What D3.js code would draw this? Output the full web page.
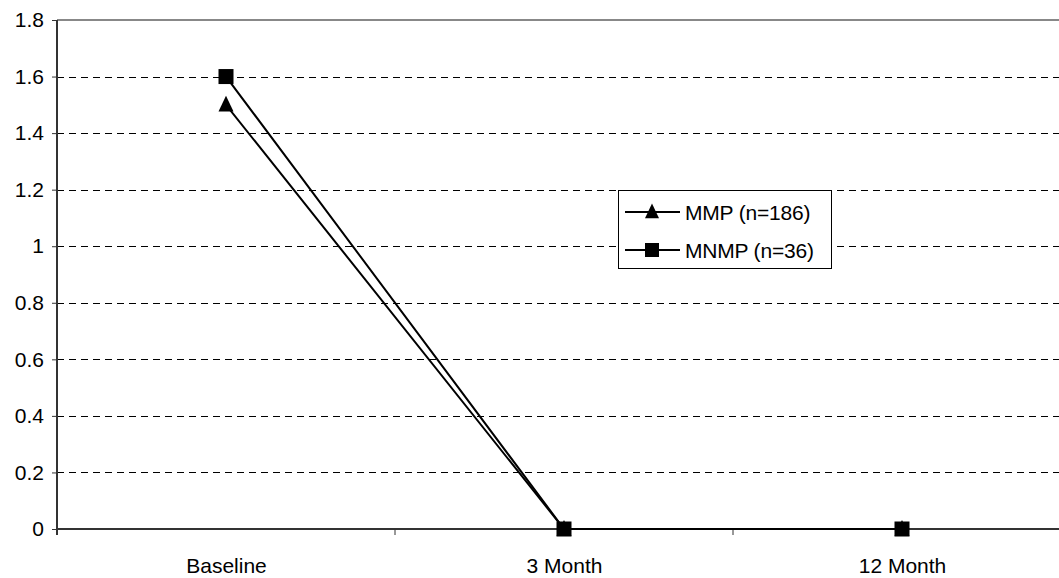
<!DOCTYPE html>
<html>
<head>
<meta charset="utf-8">
<script src="https://cdn.jsdelivr.net/npm/d3@7"></script>
<style>
  html, body { margin: 0; padding: 0; background: #fff; }
  svg { display: block; }
  text { font-family: "Liberation Sans", Arial, sans-serif; fill: #000; }
</style>
</head>
<body>
<svg id="chart" width="1059" height="578"></svg>
<script>
const categories = ["Baseline", "3 Month", "12 Month"];
const mmpValues = [1.5, 0, 0];
const mnmpValues = [1.6, 0, 0];
const seriesNames = ["MMP (n=186)", "MNMP (n=36)"];
const yTicks = [0, 0.2, 0.4, 0.6, 0.8, 1, 1.2, 1.4, 1.6, 1.8];

const svg = d3.select("#chart");
const pLeft = 57, pRight = 1071, pTop = 20, pBottom = 529;

const x = d3.scalePoint().domain(categories).range([pLeft, pRight]).padding(0.5);
const y = d3.scaleLinear().domain([0, 1.8]).range([pBottom, pTop]);
const step = x.step();

// gridlines
svg.append("g").selectAll("line")
  .data(yTicks.filter(d => d > 0 && d < 1.8))
  .join("line")
  .attr("x1", pLeft).attr("x2", 1059)
  .attr("y1", d => Math.round(y(d)) + 0.5).attr("y2", d => Math.round(y(d)) + 0.5)
  .attr("stroke", "#000").attr("stroke-width", 1)
  .attr("stroke-dasharray", "7,5");

// top border
svg.append("line").attr("x1", pLeft).attr("x2", 1059)
  .attr("y1", pTop).attr("y2", pTop)
  .attr("stroke", "#888").attr("stroke-width", 2);

// y axis
const yAxis = d3.axisLeft(y).tickValues(yTicks).tickSize(5).tickPadding(8)
  .tickFormat(d => d3.format("")(+d.toFixed(1)));
const gy = svg.append("g").attr("transform", `translate(${pLeft},0)`).call(yAxis);
gy.select(".domain").attr("stroke", "#333").attr("stroke-width", 2)
  .attr("d", `M0,${pTop}V${pBottom + 6}`);
gy.selectAll(".tick line").attr("stroke", "#333");
gy.selectAll(".tick text").style("font-size", "21px")
  .style("font-family", "'Liberation Sans', Arial, sans-serif").attr("fill", "#000");

// x axis
const xAxis = d3.axisBottom(x).tickSize(0).tickPadding(0).tickFormat(d => d);
const gx = svg.append("g").attr("transform", `translate(0,${pBottom})`).call(xAxis);
gx.select(".domain").attr("stroke", "#333").attr("stroke-width", 2)
  .attr("d", `M${pLeft},0H1059`);
gx.selectAll(".tick text").attr("y", 44).attr("dy", 0)
  .style("font-size", "21px")
  .style("font-family", "'Liberation Sans', Arial, sans-serif").attr("fill", "#000");
// category separator ticks
svg.append("g").selectAll("line")
  .data(categories.slice(0, -1))
  .join("line")
  .attr("x1", d => x(d) + step / 2).attr("x2", d => x(d) + step / 2)
  .attr("y1", pBottom).attr("y2", pBottom + 6)
  .attr("stroke", "#333").attr("stroke-width", 1);

const line = d3.line().x((d, i) => x(categories[i])).y(d => y(d));

function triangle(g, cx, cy, s) {
  g.append("path")
    .attr("d", `M${cx},${cy - s * 0.6}L${cx + s / 2},${cy + s * 0.45}L${cx - s / 2},${cy + s * 0.45}Z`)
    .attr("fill", "#000");
}
function square(g, cx, cy, s) {
  g.append("rect").attr("x", cx - s / 2).attr("y", cy - s / 2)
    .attr("width", s).attr("height", s).attr("fill", "#000");
}

// series lines
svg.append("path").datum(mmpValues).attr("d", line)
  .attr("fill", "none").attr("stroke", "#000").attr("stroke-width", 2);
svg.append("path").datum(mnmpValues).attr("d", line)
  .attr("fill", "none").attr("stroke", "#000").attr("stroke-width", 2);

const mk = svg.append("g");
mmpValues.forEach((v, i) => triangle(mk, x(categories[i]), y(v), 15));
mnmpValues.forEach((v, i) => square(mk, x(categories[i]), y(v), 15));

// legend
const lg = svg.append("g");
lg.append("rect").attr("x", 618.5).attr("y", 190.5).attr("width", 213).attr("height", 78)
  .attr("fill", "#fff").attr("stroke", "#000").attr("stroke-width", 1);
const rows = [212, 250];
seriesNames.forEach((name, i) => {
  const cy = rows[i];
  lg.append("line").attr("x1", 625).attr("x2", 680).attr("y1", cy).attr("y2", cy)
    .attr("stroke", "#000").attr("stroke-width", 2);
  if (i === 0) triangle(lg, 652, cy, 14); else square(lg, 652, cy, 14);
  lg.append("text").attr("x", 685).attr("y", cy).attr("dy", "0.36em")
    .style("font-size", "21px").style("letter-spacing", "-0.2px").text(name);
});
</script>
</body>
</html>
